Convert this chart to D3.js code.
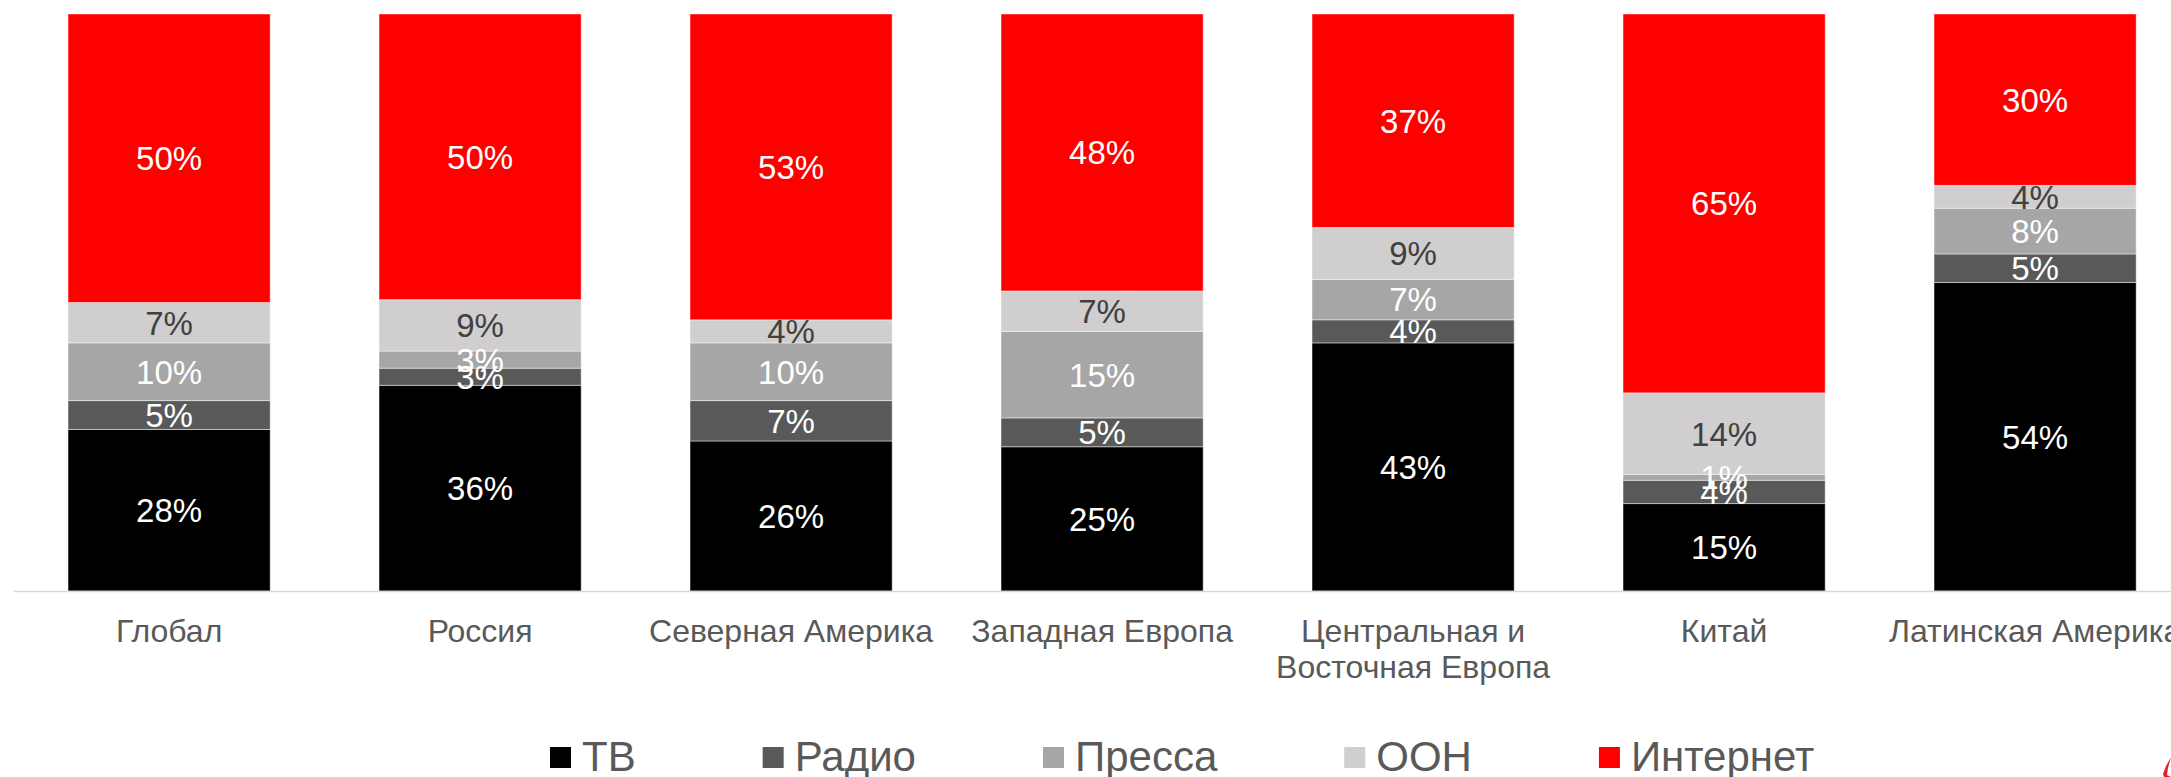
<!doctype html>
<html>
<head>
<meta charset="utf-8">
<style>
body{
  margin:0;
  background-color:#ffffff;
}
.val{
  font-size:33px;
  font-family:"Liberation Sans", Arial, sans-serif;
  text-anchor:middle;
}
.cat{
  font-size:32px;
  font-family:"Liberation Sans", Arial, sans-serif;
  fill:#595959;
  text-anchor:middle;
}
.leg{
  font-size:42px;
  font-family:"Liberation Sans", Arial, sans-serif;
  fill:#595959;
}
</style>
<script src="https://d3js.org/d3.v7.min.js"></script>
</head>
<body>
<svg width="2171" height="777"></svg>
<script>
// regions and media shares, % (as labelled on the chart)
var categories = ["Глобал", "Россия", "Северная Америка", "Западная Европа",
                  "Центральная и Восточная Европа", "Китай", "Латинская Америка"];
var series   = ["ТВ", "Радио", "Пресса", "ООН", "Интернет"];
var tv       = [28, 36, 26, 25, 43, 15, 54];
var radio    = [5, 3, 7, 5, 4, 4, 5];
var press    = [10, 3, 10, 15, 7, 1, 8];
var ooh      = [7, 9, 4, 7, 9, 14, 4];
var internet = [50, 50, 53, 48, 37, 65, 30];

var colors    = ["#000000", "#595959", "#a6a6a6", "#d0cece", "#ff0000"];
var labelFill = ["#ffffff", "#ffffff", "#ffffff", "#404040", "#ffffff"];

var values = [tv, radio, press, ooh, internet];
var rows = categories.map(function(c, i) {
  var r = {cat: c};
  series.forEach(function(s, j) { r[s] = values[j][i]; });
  return r;
});

var svg = d3.select("svg");

var x = d3.scaleBand()
    .domain(categories)
    .range([13.6, 13.6 + 311 * 7])
    .paddingInner(0.35)
    .paddingOuter(0.175);

var y = d3.scaleLinear()
    .domain([0, 1])
    .range([591, 14]);

var stack = d3.stack()
    .keys(series)
    .offset(d3.stackOffsetExpand);

var layers = stack(rows);

var g = svg.selectAll("g.layer")
    .data(layers)
    .enter()
    .append("g")
    .attr("class", "layer")
    .style("fill", function(d, i) { return colors[i]; });

g.selectAll("rect")
    .data(function(d) { return d; })
    .enter()
    .append("rect")
    .attr("x", function(d) { return x(d.data.cat); })
    .attr("y", function(d) { return y(d[1]); })
    .attr("width", x.bandwidth())
    .attr("height", function(d) { return y(d[0]) - y(d[1]); })
    .attr("stroke", "#ffffff")
    .attr("stroke-opacity", 0.45)
    .attr("stroke-width", 1);

// value labels on top of the bars
layers.forEach(function(layer, i) {
  svg.append("g").selectAll("text")
    .data(layer)
    .enter()
    .append("text")
    .attr("class", "val")
    .style("fill", labelFill[i])
    .attr("x", function(d) { return x(d.data.cat) + x.bandwidth() / 2; })
    .attr("y", function(d) { return (y(d[0]) + y(d[1])) / 2; })
    .attr("dy", "0.36em")
    .text(function(d) { return d.data[layer.key] + "%"; });
});

// axis line
svg.append("line")
    .attr("x1", 13.6)
    .attr("x2", 2171)
    .attr("y1", 591.5)
    .attr("y2", 591.5)
    .attr("stroke", "#d9d9d9")
    .attr("stroke-width", 1.5);

// category labels, wrapped to the band step
var cats = svg.append("g").selectAll("text")
    .data(categories)
    .enter()
    .append("text")
    .attr("class", "cat")
    .attr("x", function(d) { return x(d) + x.bandwidth() / 2; })
    .attr("y", 642);

cats.each(function(d) {
  var t = d3.select(this), words = d.split(" "), line = [];
  var ts = t.append("tspan").attr("x", t.attr("x")).attr("dy", 0);
  words.forEach(function(w) {
    line.push(w);
    ts.text(line.join(" "));
    if (ts.node().getComputedTextLength() > x.step() && line.length > 1) {
      line.pop();
      ts.text(line.join(" "));
      line = [w];
      ts = t.append("tspan").attr("x", t.attr("x")).attr("dy", 36).text(w);
    }
  });
});

// legend
var lx = 550;
series.forEach(function(s, i) {
  svg.append("rect")
    .attr("x", lx)
    .attr("y", 747)
    .attr("width", 21)
    .attr("height", 21)
    .style("fill", colors[i]);
  var t = svg.append("text")
    .attr("class", "leg")
    .attr("x", lx + 32)
    .attr("y", 771)
    .text(s);
  lx = lx + 32 + t.node().getComputedTextLength() + 127;
});

// corner of the logo, cut off at the edge
svg.append("path")
    .attr("d", "M2171,757 L2166,766 L2163,774 L2164,777 L2171,777 L2167,775 L2168,768 Z")
    .style("fill", "#e8202a");
</script>
</body>
</html>
